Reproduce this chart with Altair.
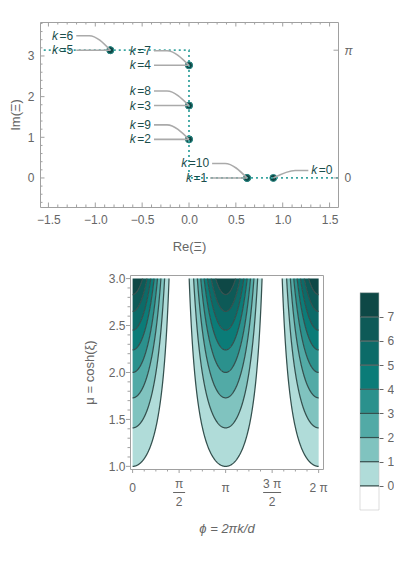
import numpy as np
import pandas as pd
import altair as alt

PI = float(np.pi)
FONT = "Liberation Sans"
GREY = "#666666"
FRAME = "#a0a0a0"
TXT = "#1b4e4c"
DOT = "#3aa5a1"
LEAD = "#aaaaaa"
CLINE = "#34504e"
LFS = 12  # point-label font size

# ---------------- top panel data ----------------
k_vals = [0, 1, 2, 3, 4, 5, 6, 7, 8, 9, 10]
xi_re = [0.90, 0.62, 0.0, 0.0, 0.0, -0.84, -0.84, 0.0, 0.0, 0.0, 0.62]
xi_im = [0.0, 0.0, 0.95, 1.78, 2.77, 3.1416, 3.1416, 2.77, 1.78, 0.95, 0.0]
# label offsets from the point, in pixels (layout only)
lab_dx = [38, -40, -38, -38, -38, -37, -37, -38, -38, -38, -38]
lab_dy = [-7.5, 0, 0, 0, 0, 0, -14.5, -14.5, -14.5, -14.5, -14.5]
path_re = [-1.55, 0.0, 0.0, 1.59]
path_im = [PI, PI, 0.0, 0.0]

XD = [-1.59, 1.59]
YD = [-0.714, 3.835]
W1, H1 = 298, 185
xs = W1 / (XD[1] - XD[0])
ys = H1 / (YD[1] - YD[0])

pts = pd.DataFrame({"k": k_vals, "re": xi_re, "im": xi_im})

eq_rows, k_rows, lead_rows = [], [], []
for k, re, im, dx, dy in zip(k_vals, xi_re, xi_im, lab_dx, lab_dy):
    ax = re + dx / xs
    ay = im - dy / ys
    eq = "=" + str(k)
    w_eq = LFS * (0.584 + 0.556 * len(str(k))) + 1.5
    if dx < 0:
        eq_rows.append({"x": ax, "y": ay, "t": eq, "al": "right"})
        k_rows.append({"x": ax - w_eq / xs, "y": ay, "t": "k", "al": "right"})
        sx = ax + 3 / xs
        if abs(dy) < 3:
            seq = [(sx, ay), (re, im)]
        else:
            seq = [(sx, ay), (sx + 13 / xs, ay), (re, im)]
    else:
        k_rows.append({"x": ax, "y": ay, "t": "k", "al": "left"})
        eq_rows.append({"x": ax + 7.5 / xs, "y": ay, "t": eq, "al": "left"})
        ex = ax - 3 / xs
        seq = [(re, im), (ex - 13 / xs, ay), (ex, ay)]
    for i, (a, b) in enumerate(seq):
        lead_rows.append({"k": k, "o": i, "x": a, "y": b})

eq_df = pd.DataFrame(eq_rows)
k_df = pd.DataFrame(k_rows)
lead_df = pd.DataFrame(lead_rows)
path_df = pd.DataFrame({"re": path_re, "im": path_im, "o": range(len(path_re))})

x_major = [-1.5, -1.0, -0.5, 0.0, 0.5, 1.0, 1.5]
x_minor = [round(v, 1) for v in np.arange(-1.5, 1.51, 0.1) if round(v * 2, 6) % 1 != 0]
y_major = [0, 1, 2, 3]
y_minor = [round(v, 1) for v in np.arange(-0.6, 3.81, 0.2) if abs(v - round(v)) > 1e-6]
r_major = [0.0, PI]


def sx1(f, axis=None):
    return alt.X(f, type="quantitative", scale=alt.Scale(domain=XD, nice=False, zero=False), axis=axis)


def sy1(f, axis=None):
    return alt.Y(f, type="quantitative", scale=alt.Scale(domain=YD, nice=False, zero=False), axis=axis)


ax_common = dict(ticks=False, tickSize=0, domain=False, grid=False, labelFont=FONT, labelFontSize=12,
                 labelColor=GREY, titleFont=FONT, titleFontSize=13, titleFontWeight="normal",
                 titleColor=GREY, labelOverlap=False)
xaxis1 = alt.Axis(values=x_major, format=".1f", labelPadding=7, title="Re(Ξ)", titlePadding=15, **ax_common)
yaxis1 = alt.Axis(values=y_major, format="d", labelPadding=6, title="Im(Ξ)", titlePadding=5, **ax_common)
raxis1 = alt.Axis(orient="right", values=r_major, labelExpr="datum.value > 1 ? 'π' : '0'",
                  labelFontStyle={"condition": {"test": "datum.value > 1", "value": "italic"}, "value": "normal"},
                  labelPadding=6, title=None, **{k: v for k, v in ax_common.items() if not k.startswith("title")})


def vt(vals):
    return pd.DataFrame({"v": vals})


tick_layers = []
for vals, ln in ((x_major, 4.5), (x_minor, 2.5)):
    tick_layers.append(alt.Chart(vt(vals)).mark_rule(color=FRAME, strokeWidth=1).encode(
        x=sx1("v"), y=alt.value(H1), y2=alt.value(H1 - ln)))
    tick_layers.append(alt.Chart(vt(vals)).mark_rule(color=FRAME, strokeWidth=1).encode(
        x=sx1("v"), y=alt.value(0), y2=alt.value(ln)))
for vals, ln in ((y_major, 4.5), (y_minor, 2.5)):
    tick_layers.append(alt.Chart(vt(vals)).mark_rule(color=FRAME, strokeWidth=1).encode(
        y=sy1("v"), x=alt.value(0), x2=alt.value(ln)))
right_ticks = alt.Chart(vt(r_major)).mark_rule(color=FRAME, strokeWidth=1).encode(
    y=sy1("v", raxis1), x=alt.value(W1), x2=alt.value(W1 - 4.5))

path_layer = alt.Chart(path_df).mark_line(color=DOT, strokeWidth=1.8, strokeDash=[2, 3], clip=True).encode(
    x=sx1("re"), y=sy1("im"), order="o:Q")
lead_layer = alt.Chart(lead_df).mark_line(color=LEAD, strokeWidth=1.6, interpolate="monotone").encode(
    x=sx1("x"), y=sy1("y"), detail="k:N", order="o:Q")
pt_layer = alt.Chart(pts).mark_circle(size=48, color="#0d4543", opacity=1, stroke="#2b8a86",
                                      strokeWidth=1).encode(x=sx1("re", xaxis1), y=sy1("im", yaxis1))


def text_layer(df, style):
    layers = []
    for al in ("left", "right"):
        sub = df[df["al"] == al]
        if len(sub):
            layers.append(alt.Chart(sub).mark_text(align=al, baseline="middle", font=FONT, fontSize=LFS,
                                                   fontStyle=style, color=TXT).encode(
                x=sx1("x"), y=sy1("y"), text="t:N"))
    return layers


top = alt.layer(
    pt_layer, *tick_layers, path_layer, lead_layer, *text_layer(eq_df, "normal"), *text_layer(k_df, "italic"),
    right_ticks
).resolve_axis(x="independent", y="independent").properties(width=W1, height=H1)

# ---------------- bottom panel: contour data ----------------
mu_levels = [1.0, 1.41, 1.73, 2.0, 2.24, 2.45, 2.65, 2.83]   # contour mu at phi = 0, pi, 2pi
level_names = [0, 1, 2, 3, 4, 5, 6, 7]
mu_top = 3.0
band_colors = ["#b0dcd9", "#80c3bf", "#52aaa6", "#2b918d", "#0b7c78", "#0c6b68", "#0d5a57", "#0e4846"]

XD2 = [-0.088, 6.43]
YD2 = [0.972, 3.038]
W2, H2 = 193, 194
xs2 = W2 / (XD2[1] - XD2[0])


def level_curve(m, ph):
    return m / np.maximum(np.abs(np.cos(ph)), 1e-9)


area_rows, line_rows = [], []
for n, m in enumerate(mu_levels):
    a = float(np.arccos(m / mu_top))
    m_next = mu_levels[n + 1] if n + 1 < len(mu_levels) else None
    b = float(np.arccos(m_next / mu_top)) if m_next is not None else None
    for s, (lo, hi, c) in enumerate([(0.0, a, 0.0), (PI - a, PI + a, PI), (2 * PI - a, 2 * PI, 2 * PI)]):
        ph = np.linspace(lo, hi, 181)
        if b is not None:
            ph = np.concatenate([ph, [e for e in (c - b, c + b) if lo < e < hi]])
        ph = np.unique(ph)
        ylo = np.minimum(level_curve(m, ph), mu_top)
        yhi = np.full_like(ph, mu_top) if m_next is None else np.minimum(level_curve(m_next, ph), mu_top)
        g = f"{n}_{s}"
        for p, u, v in zip(ph, ylo, yhi):
            area_rows.append({"g": g, "phi": p, "lo": u, "hi": v, "col": band_colors[n]})
            line_rows.append({"g": g, "phi": p, "mu": u})
area_df = pd.DataFrame(area_rows)
line_df = pd.DataFrame(line_rows)


def sx2(f, axis=None):
    return alt.X(f, type="quantitative", scale=alt.Scale(domain=XD2, nice=False, zero=False), axis=axis)


def sy2(f, axis=None):
    return alt.Y(f, type="quantitative", scale=alt.Scale(domain=YD2, nice=False, zero=False), axis=axis)


xaxis2 = alt.Axis(labels=False, title="ϕ = 2πk/d", titleFontStyle="italic", titlePadding=53, **ax_common)
yaxis2 = alt.Axis(values=[1.0, 1.5, 2.0, 2.5, 3.0], format=".1f", labelPadding=5, title="μ = cosh(ξ)",
                  titlePadding=12, **ax_common)

area_layer = alt.Chart(area_df).mark_area(opacity=1).encode(
    x=sx2("phi", xaxis2), y=sy2("lo", yaxis2), y2="hi:Q", fill=alt.Fill("col:N", scale=None), detail="g:N")
cline_layer = alt.Chart(line_df).mark_line(color=CLINE, strokeWidth=1.25).encode(
    x=sx2("phi"), y=sy2("mu"), detail="g:N")

phi_major = [0.0, PI / 2, PI, 3 * PI / 2, 2 * PI]
phi_minor = [i * PI / 8 for i in range(17) if i % 4 != 0]
mu_major = [1.0, 1.5, 2.0, 2.5, 3.0]
mu_minor = [round(v, 1) for v in np.arange(1.0, 3.01, 0.1) if abs(v * 2 - round(v * 2)) > 1e-6]

b_ticks = []
for vals, ln in ((phi_major, 4), (phi_minor, 2.5)):
    b_ticks.append(alt.Chart(vt(vals)).mark_rule(color=FRAME, strokeWidth=1).encode(
        x=sx2("v"), y=alt.value(H2), y2=alt.value(H2 + ln)))
for vals, ln in ((mu_major, 4), (mu_minor, 2.5)):
    b_ticks.append(alt.Chart(vt(vals)).mark_rule(color=FRAME, strokeWidth=1).encode(
        y=sy2("v"), x=alt.value(0), x2=alt.value(-ln)))

tick_lab = pd.DataFrame({"v": phi_major, "num": ["0", "π", "π", "3 π", "2 π"], "den": ["", "2", "", "2", ""],
                         "half": [0, 6, 0, 9, 0]})
whole = tick_lab[tick_lab["den"] == ""]
frac = tick_lab[tick_lab["den"] != ""].copy()
frac["b1"] = frac["v"] - frac["half"] / xs2
frac["b2"] = frac["v"] + frac["half"] / xs2
lab_style = dict(font=FONT, fontSize=12, color=GREY, baseline="middle", align="center")
b_labels = [
    alt.Chart(whole).mark_text(**lab_style).encode(x=sx2("v"), y=alt.value(H2 + 19), text="num:N"),
    alt.Chart(frac).mark_text(**lab_style).encode(x=sx2("v"), y=alt.value(H2 + 15), text="num:N"),
    alt.Chart(frac).mark_text(**lab_style).encode(x=sx2("v"), y=alt.value(H2 + 32.5), text="den:N"),
    alt.Chart(frac).mark_rule(color=GREY, strokeWidth=1).encode(
        x=sx2("b1"), x2="b2:Q", y=alt.value(H2 + 23.5)),
]

contour = alt.layer(area_layer, cline_layer, *b_ticks, *b_labels).resolve_axis(
    x="independent", y="independent").properties(width=W2, height=H2)

# ---------------- legend (colour bar) ----------------
leg_lo = [-1, 0, 1, 2, 3, 4, 5, 6, 7]
leg_col = ["#ffffff"] + band_colors
leg_df = pd.DataFrame({"lo": leg_lo, "hi": [v + 1 for v in leg_lo], "col": leg_col})
LD = [-1, 8.73]
HL, WL = 235, 19


def syl(f, axis=None):
    return alt.Y(f, type="quantitative", scale=alt.Scale(domain=LD, nice=False, zero=False), axis=axis)


laxis = alt.Axis(orient="right", values=level_names, format="d", ticks=True, tickSize=4, tickColor=GREY,
                 domain=False, grid=False, labelPadding=4, labelFont=FONT, labelFontSize=12, labelColor=GREY,
                 labelOverlap=False, title=None)
leg_rect = alt.Chart(leg_df).mark_rect(stroke="#c8c8c8", strokeWidth=0.6).encode(
    y=syl("lo", laxis), y2="hi:Q", x=alt.value(0), x2=alt.value(WL), fill=alt.Fill("col:N", scale=None))
leg_lines = alt.Chart(vt(level_names)).mark_rule(color=CLINE, strokeWidth=1.2).encode(
    y=syl("v"), x=alt.value(0), x2=alt.value(WL))
legend = alt.layer(leg_rect, leg_lines).resolve_axis(y="independent").properties(
    width=WL, height=HL, view=alt.ViewBackground(stroke=None))

spacer = alt.Chart(pd.DataFrame({"a": [0]})).mark_point(opacity=0).encode(
    x=alt.value(0), y=alt.value(0)).properties(width=12, height=10, view=alt.ViewBackground(stroke=None))

bottom = alt.hconcat(spacer, contour, legend, spacing=30)

chart = alt.vconcat(top, bottom, spacing=18).properties(
    padding={"left": 0, "top": 13, "right": 0, "bottom": 0}
).configure_axis(grid=False, domain=False, ticks=False, labelFont=FONT, labelColor=GREY, labelFontSize=12,
                 titleFont=FONT, titleColor=GREY, titleFontWeight="normal", titleFontSize=13
).configure_view(stroke=FRAME, strokeWidth=1)

chart.save("out.html", embed_options={"renderer": "svg", "actions": False})
